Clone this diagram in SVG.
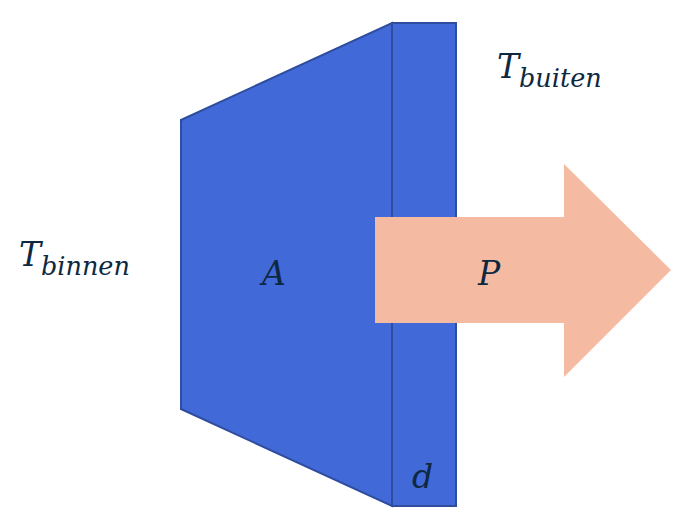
<svg xmlns="http://www.w3.org/2000/svg" width="690" height="530" viewBox="0 0 690 530">
<style>
.wall{fill:#4169d8;stroke:#2f4d9e;stroke-width:2;stroke-linejoin:miter}
.arrow{fill:#f5bba2;stroke:none}
.lbl{font-family:"DejaVu Serif","Liberation Serif",serif;font-style:italic;fill:#0e2841}
.big{font-size:33px}
.sub{font-size:25.5px}
</style>
<rect width="690" height="530" fill="#ffffff"/>
<g id="wall-face">
<polygon class="wall" points="181,120 392,23 392,506 181,409"/>
</g>
<g id="wall-edge">
<rect class="wall" x="392" y="23" width="64" height="483"/>
</g>
<g id="heat-flow">
<polygon class="arrow" points="375,217 564,217 564,164 671,270 564,377 564,323 375,323"/>
</g>
<g id="labels">
<text class="lbl big" x="19" y="266">T<tspan class="sub" dy="9">binnen</tspan></text>
<text class="lbl big" x="262" y="285">A</text>
<text class="lbl big" x="478" y="285">P</text>
<text class="lbl big" x="497" y="78">T<tspan class="sub" dy="9">buiten</tspan></text>
<text class="lbl big" x="412" y="488">d</text>
</g>
</svg>
